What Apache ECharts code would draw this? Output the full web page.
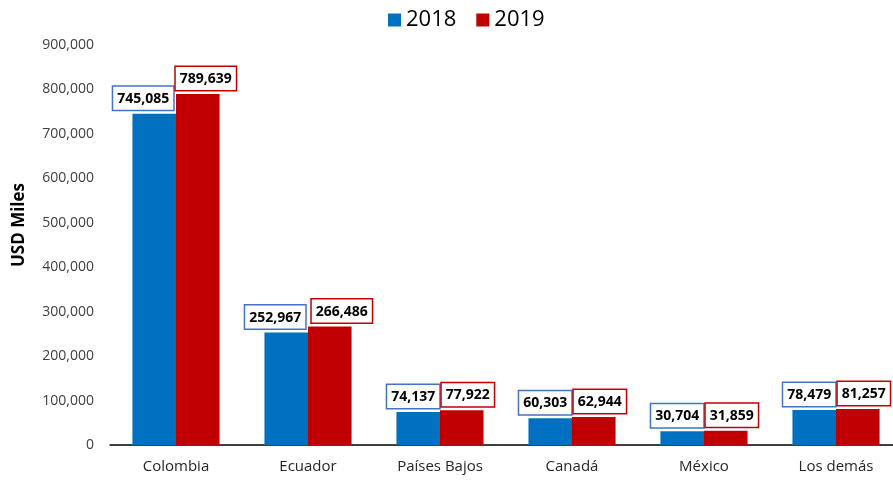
<!DOCTYPE html>
<html>
<head>
<meta charset="utf-8">
<script src="https://cdn.jsdelivr.net/npm/echarts@6/dist/echarts.min.js"></script>
<style>
html,body{margin:0;padding:0;background:#fff;}
#chart{width:893px;height:480px;}
</style>
</head>
<body>
<div id="chart"></div>
<script>
// 数据
var categories = ['Colombia', 'Ecuador', 'Países Bajos', 'Canadá', 'México', 'Los demás'];
var values2018 = [745085, 252967, 74137, 60303, 30704, 78479];
var values2019 = [789639, 266486, 77922, 62944, 31859, 81257];
var yTicks = [0, 100000, 200000, 300000, 400000, 500000, 600000, 700000, 800000, 900000];

// 标签水平偏移（避免重叠）
var shift2018 = [-11, -11, -5, -5, -5, -5];
var shift2019 = [8, 12, 6, 6, 6, 6];

var font = '"Open Sans", "Liberation Sans", sans-serif';

function fmt(v) {
    return v.toLocaleString('en-US');
}

function boxLabel(borderColor) {
    return {
        show: true,
        position: 'top',
        distance: 4,
        formatter: function (p) { return fmt(p.value); },
        fontFamily: font,
        fontSize: 14,
        fontWeight: 'bold',
        color: '#000',
        backgroundColor: '#fff',
        borderColor: borderColor,
        borderWidth: 1.5,
        padding: [5, 4, 4, 4]
    };
}

function withShift(values, shifts) {
    return values.map(function (v, i) {
        return { value: v, label: { offset: [shifts[i], 0] } };
    });
}

var chart = echarts.init(document.getElementById('chart'));
var option = {
    animation: false,
    color: ['#0070C0', '#C00000'],
    legend: {
        top: 4,
        left: 383,
        itemWidth: 13,
        itemHeight: 13,
        itemGap: 20,
        icon: 'rect',
        textStyle: { fontFamily: font, fontSize: 22, color: '#000' },
        data: ['2018', '2019']
    },
    grid: { left: 110, top: 45, width: 792, height: 400, outerBoundsMode: 'none' },
    xAxis: {
        type: 'category',
        data: categories,
        axisLine: { lineStyle: { color: '#000', width: 1.5 } },
        axisTick: { alignWithLabel: true, length: 4, lineStyle: { color: '#000', width: 1.5 } },
        axisLabel: { fontFamily: font, fontSize: 15, color: '#262626', margin: 14 }
    },
    yAxis: {
        type: 'value',
        min: yTicks[0],
        max: yTicks[yTicks.length - 1],
        interval: 100000,
        name: 'USD Miles',
        nameLocation: 'middle',
        nameGap: 82,
        nameTextStyle: { fontFamily: font, fontSize: 17, fontWeight: 'bold', color: '#000', padding: [0, 0, 0, 40] },
        axisLine: { show: false },
        axisTick: { show: false },
        splitLine: { show: false },
        axisLabel: {
            fontFamily: font, fontSize: 14, color: '#404040', margin: 16,
            formatter: function (v) { return fmt(v); }
        }
    },
    series: [
        {
            name: '2018',
            type: 'bar',
            data: withShift(values2018, shift2018),
            barGap: '0%',
            barCategoryGap: '34%',
            label: boxLabel('#4472C4')
        },
        {
            name: '2019',
            type: 'bar',
            data: withShift(values2019, shift2019),
            barGap: '0%',
            barCategoryGap: '34%',
            label: boxLabel('#C00000')
        }
    ]
};
chart.setOption(option);
</script>
</body>
</html>
